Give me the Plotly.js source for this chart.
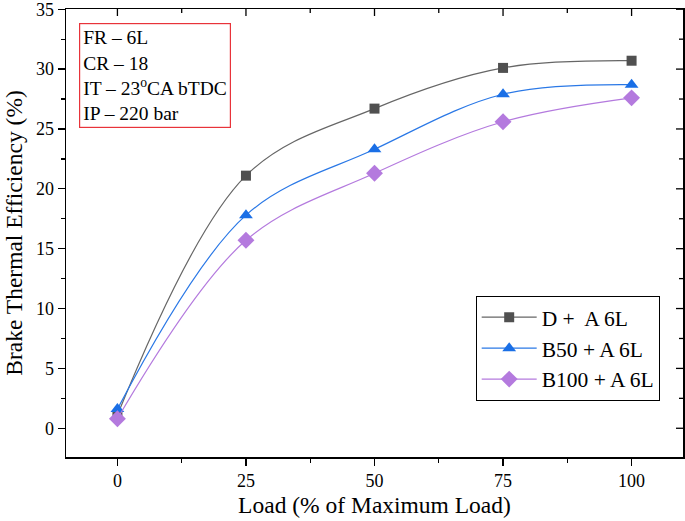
<!DOCTYPE html>
<html>
<head>
<meta charset="utf-8">
<script src="https://cdn.plot.ly/plotly-3.0.1.min.js"></script>
<style>html,body{margin:0;padding:0;background:#fff;}#chart{width:685px;height:521px;}</style>
</head>
<body>
<div id="chart"></div>
<script>
const loads = [0, 25, 50, 75, 100];
const dieselA6L = [1.1, 21.1, 26.7, 30.1, 30.7];
const b50A6L = [1.6, 17.8, 23.3, 27.9, 28.7];
const b100A6L = [0.8, 15.7, 21.3, 25.6, 27.6];
const seriesNames = ['D +  A 6L', 'B50 + A 6L', 'B100 + A 6L'];
const xTicks = [0, 25, 50, 75, 100];
const yTicks = [0, 5, 10, 15, 20, 25, 30, 35];
const noteLines = ['FR – 6L', 'CR – 18', 'IT – 23<sup>o</sup>CA bTDC', 'IP – 220 bar'];

const serif = 'Liberation Serif';
const W = 685, H = 521, M = {l: 66, r: 2, t: 9, b: 64};
const plotW = W - M.l - M.r, plotH = H - M.t - M.b;
const XR = [-10, 110], YR = [-2.4, 35.02];

function tr(y, name, color, lineColor, symbol, size) {
  return {
    x: loads, y: y, name: name, type: 'scatter', mode: 'lines+markers',
    line: {color: lineColor, width: 1.2, shape: 'spline', smoothing: 1},
    marker: {color: color, symbol: symbol, size: size}
  };
}
const data = [
  tr(dieselA6L, seriesNames[0], '#505050', '#666666', 'square', 10),
  tr(b50A6L, seriesNames[1], '#1a6fe6', '#2a78e6', 'triangle-up', 12),
  tr(b100A6L, seriesNames[2], '#b47ade', '#b47ade', 'diamond', 13)
];

// inward-pointing tick marks on the top and right frame (mirrors of the tick arrays)
function mids(arr) { const m = []; for (let i = 1; i < arr.length; i++) m.push((arr[i - 1] + arr[i]) / 2); return m; }
const shapes = [];
function addX(vals, len) {
  vals.forEach(v => shapes.push({type: 'line', xref: 'x', yref: 'paper', x0: v, x1: v, y0: 1, y1: 1 - len / plotH,
    line: {color: '#000', width: 1.3}, layer: 'above'}));
}
function addY(vals, len) {
  vals.forEach(v => shapes.push({type: 'line', xref: 'paper', yref: 'y', x0: 1, x1: 1 - len / plotW, y0: v, y1: v,
    line: {color: '#000', width: 1.3}, layer: 'above'}));
}
addX(xTicks, 7); addX(mids(xTicks), 4);
addY(yTicks, 7); addY(mids(yTicks), 4);

const layout = {
  width: W, height: H,
  margin: M,
  paper_bgcolor: '#fff', plot_bgcolor: '#fff',
  font: {family: serif, color: '#000', size: 18},
  showlegend: true,
  legend: {
    x: 0.664, y: 0.36, xanchor: 'left', yanchor: 'top',
    bordercolor: '#000', borderwidth: 1, bgcolor: '#fff',
    font: {family: serif, size: 21.5, color: '#000'},
    itemwidth: 55, tracegroupgap: 0
  },
  xaxis: {
    range: XR, tickvals: xTicks, ticks: 'outside', ticklen: 7, tickwidth: 1.3, tickcolor: '#000',
    showline: true, mirror: true, linecolor: '#000', linewidth: 1.5, showgrid: false, zeroline: false,
    tickfont: {size: 18, family: serif}, ticklabeloverflow: 'allow',
    minor: {dtick: 12.5, tick0: 0, ticks: 'outside', ticklen: 4, tickwidth: 1.3, tickcolor: '#000', showgrid: false},
    title: {text: 'Load (% of Maximum Load)', font: {size: 23.5, family: serif}, standoff: 6}
  },
  yaxis: {
    range: YR, tickvals: yTicks, ticks: 'outside', ticklen: 7, tickwidth: 1.3, tickcolor: '#000',
    showline: true, mirror: true, linecolor: '#000', linewidth: 1.5, showgrid: false, zeroline: false,
    tickfont: {size: 18, family: serif}, ticklabeloverflow: 'allow',
    minor: {dtick: 2.5, tick0: 0, ticks: 'outside', ticklen: 4, tickwidth: 1.3, tickcolor: '#000', showgrid: false},
    title: {text: 'Brake Thermal Efficiency (%)', font: {size: 23.5, family: serif}, standoff: 6}
  },
  shapes: shapes,
  annotations: [{
    xref: 'paper', yref: 'paper', x: 0.021, y: 0.968, xanchor: 'left', yanchor: 'top',
    text: noteLines.join('<br>'), align: 'left', showarrow: false,
    font: {family: serif, size: 19.5, color: '#000'},
    bordercolor: '#e8333a', borderwidth: 1.2, borderpad: 3, bgcolor: '#fff'
  }]
};
Plotly.newPlot('chart', data, layout, {displayModeBar: false, staticPlot: true});
</script>
</body>
</html>
